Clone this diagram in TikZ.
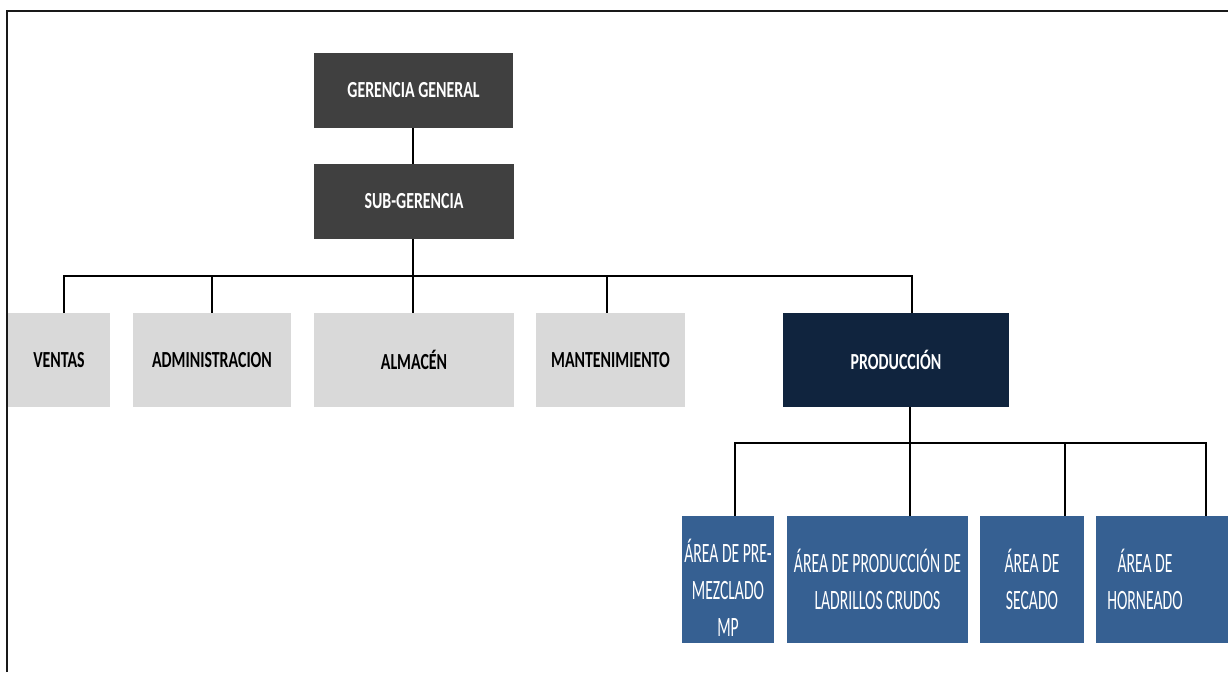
\documentclass[tikz,border=0pt]{standalone}
\usepackage{fontspec}
\setmainfont{Carlito}
\newfontfamily\headfont[FakeStretch=0.69]{Carlito}
\newfontfamily\areafont[FakeStretch=0.56]{Carlito}
\definecolor{mgrdark}{HTML}{404040}
\definecolor{deptgray}{HTML}{D9D9D9}
\definecolor{prodnavy}{HTML}{10243E}
\definecolor{areablue}{HTML}{366092}
\begin{document}
\begin{tikzpicture}[x=1pt,y=-1pt,
  box/.style={rectangle, inner sep=0pt, align=center},
  mgrbox/.style={box, fill=mgrdark, text=white, minimum height=75pt,
    font=\headfont\bfseries\fontsize{23}{27}\selectfont},
  deptbox/.style={box, fill=deptgray, text=black, minimum height=94pt,
    font=\headfont\bfseries\fontsize{23}{27}\selectfont},
  prodbox/.style={box, fill=prodnavy, text=white, minimum height=94pt,
    font=\headfont\bfseries\fontsize{23}{27}\selectfont},
  areabox/.style={box, fill=areablue, text=white, minimum height=127pt,
    font=\areafont\fontsize{28}{37}\selectfont},
  areatext/.style={box, text=white, font=\areafont\fontsize{28}{37}\selectfont},
  link/.style={draw=black, line width=1.2pt},
  frame/.style={draw=black!90, line width=2.4pt}]
\useasboundingbox (0,0) rectangle (1228,672);
\fill[white] (0,0) rectangle (1228,672);

% outer frame (top and left edges)
\draw[frame] (7,672) -- (7,11) -- (1228,11);

% management
\node[mgrbox, minimum width=199pt] (gg) at (413.5,90.5) {GERENCIA GENERAL};
\node[mgrbox, minimum width=200pt] (sub) at (414,201.5) {SUB-GERENCIA};

% departments
\node[deptbox, minimum width=102pt] (ventas) at (59,360) {VENTAS};
\node[deptbox, minimum width=158pt] (admin) at (212,360) {ADMINISTRACION};
\node[deptbox, minimum width=200pt] (alm) at (414,360) {ALMACÉN};
\node[deptbox, minimum width=149pt] (mant) at (610.5,360) {MANTENIMIENTO};
\node[prodbox, minimum width=226pt] (prod) at (896,360) {PRODUCCIÓN};

% production areas
\node[areabox, minimum width=92pt] (pre) at (728,579.5) {};
\node[areatext] (pretxt) at (728,588) {ÁREA DE PRE-\\MEZCLADO\\MP};
\node[areabox, minimum width=181pt] (lad) at (877.5,579.5) {ÁREA DE PRODUCCIÓN DE\\LADRILLOS CRUDOS};
\node[areabox, minimum width=104pt] (sec) at (1032,579.5) {ÁREA DE\\SECADO};
\node[areabox, minimum width=132pt] (horn) at (1162,579.5) {};
\node[areatext] (horntxt) at (1145,579.5) {ÁREA DE\\HORNEADO};

% connectors
\coordinate (j1) at (413,276);
\coordinate (j2) at (910,443);
\draw[link] (gg.south -| j1) -- (sub.north -| j1);
\draw[link] (sub.south -| j1) -- (j1);
\draw[link] ([xshift=5pt]ventas.north) |- ([xshift=16pt]prod.north |- j1) -- ([xshift=16pt]prod.north);
\draw[link] (admin.north) -- (admin.north |- j1);
\draw[link] (alm.north -| j1) -- (j1);
\draw[link] ([xshift=-3.5pt]mant.north) -- ([xshift=-3.5pt]mant.north |- j1);

\draw[link] (prod.south -| j2) -- (j2);
\draw[link] ([xshift=7pt]pre.north) |- ([xshift=44pt]horn.north |- j2) -- ([xshift=44pt]horn.north);
\draw[link] (lad.north -| j2) -- (j2);
\draw[link] ([xshift=33pt]sec.north) -- ([xshift=33pt]sec.north |- j2);
\end{tikzpicture}
\end{document}
